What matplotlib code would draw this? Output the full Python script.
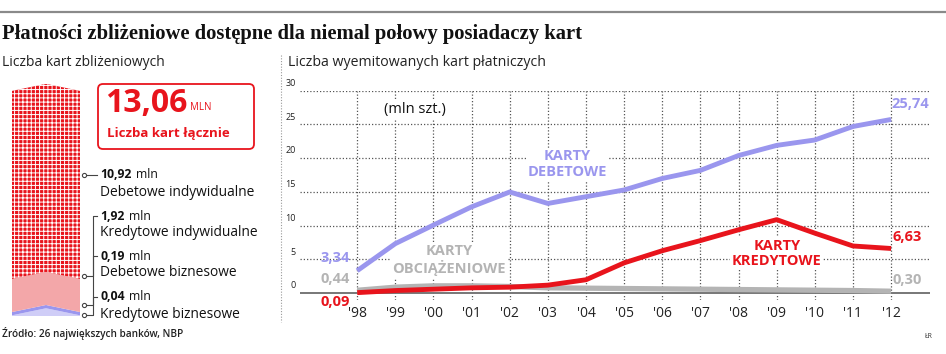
import matplotlib.pyplot as plt
import numpy as np

# --- data ---
years = list(range(1998, 2013))
year_labels = ["'98", "'99", "'00", "'01", "'02", "'03", "'04", "'05",
               "'06", "'07", "'08", "'09", "'10", "'11", "'12"]
debit = [3.34, 7.35, 10.1, 12.8, 15.0, 13.3, 14.3, 15.3, 17.0, 18.2, 20.4, 21.9, 22.7, 24.7, 25.74]
credit = [0.09, 0.4, 0.6, 0.8, 0.9, 1.2, 2.0, 4.5, 6.3, 7.8, 9.4, 10.9, 8.9, 7.0, 6.63]
charge = [0.44, 0.9, 1.1, 1.1, 1.0, 0.8, 0.75, 0.7, 0.65, 0.6, 0.55, 0.5, 0.45, 0.4, 0.30]
y_ticks = [0, 5, 10, 15, 20, 25, 30]

# contactless cards, bottom to top of the column
cl_names = ["Kredytowe biznesowe", "Debetowe biznesowe",
            "Kredytowe indywidualne", "Debetowe indywidualne"]
cl_values = [0.04, 0.19, 1.92, 10.92]
cl_total = 13.06

RED = '#e8141c'
LAV = '#9a96ee'
GREY = '#b4b4b4'
SANS = 'Open Sans'


def fmt(v):
    return f"{v:.2f}".replace('.', ',')


fig = plt.figure(figsize=(9.46, 3.54), dpi=100)
fig.patch.set_facecolor('white')

# overlay in pixel coordinates for the layout furniture
ov = fig.add_axes([0, 0, 1, 1])
ov.set_xlim(0, 946)
ov.set_ylim(354, 0)
ov.axis('off')

ov.plot([0, 946], [12, 12], color='#8a8a8a', lw=1.6)
ov.text(2, 34, "Płatności zbliżeniowe dostępne dla niemal połowy posiadaczy kart",
        family='Liberation Serif', fontweight='bold', fontsize=14.9, va='center', color='#111')
ov.text(2, 62, "Liczba kart zbliżeniowych", family=SANS, fontsize=10, va='center', color='#222')
ov.text(288, 62, "Liczba wyemitowanych kart płatniczych", family=SANS, fontsize=10.2,
        va='center', color='#222')
ov.plot([281, 281], [55, 322], color='#999', lw=0.8, ls=(0, (1, 1.5)))
ov.text(2, 334, "Źródło: 26 największych banków, NBP", family=SANS, fontsize=7.2,
        fontweight='semibold', va='center', color='#222')
ov.text(925, 336, "ŁR", family=SANS, fontsize=5, va='center', color='#333')

# red box with total
ov.add_patch(plt.matplotlib.patches.FancyBboxPatch((98, 84), 156, 65,
             boxstyle='round,pad=0,rounding_size=5', fc='white', ec=RED, lw=1.3))
big = ov.text(105, 104, fmt(cl_total), family=SANS, fontweight='bold', fontsize=23,
              color=RED, va='center')
ov.annotate("MLN", xy=(1, 0.24), xycoords=big, xytext=(2, 0), textcoords='offset points',
            family=SANS, fontsize=7, color=RED, va='bottom')
ov.text(107, 133, "Liczba kart łącznie", family=SANS, fontweight='bold', fontsize=9.5,
        color=RED, va='center')

# labels for the column
label_y = [297, 256, 216, 175]
for name, val, ly in zip(cl_names, cl_values, label_y):
    t = ov.text(100, ly, fmt(val), family=SANS, fontweight='bold', fontsize=8.8,
                color='#111', va='center')
    ov.annotate("mln", xy=(1, 0), xycoords=t, xytext=(3, 0), textcoords='offset points',
                family=SANS, fontsize=8.8, color='#111', va='bottom')
    ov.text(100, ly + 17, name, family=SANS, fontsize=9.9, color='#111', va='center')

# leader lines
ov.plot([86, 97], [175, 175], color='#444', lw=0.8)
ov.plot(84, 175, 'o', ms=3, mfc='white', mec='#444', mew=0.8)
for top, bot in [(216, 276), (256, 305), (297, 315)]:
    ov.plot([97, 93, 93, 86], [top, top, bot, bot], color='#444', lw=0.8)
    ov.plot(84, bot, 'o', ms=3, mfc='white', mec='#444', mew=0.8)

# --- contactless column ---
col = fig.add_axes([12 / 946, 1 - 316 / 354, 68 / 946, (316 - 84) / 354])
peak = 0.41
col.set_xlim(0, 1)
col.set_ylim(0, cl_total + peak)
col.axis('off')
xs = np.linspace(0, 1, 101)
tri = peak * (1 - np.abs(2 * xs - 1))
layer_colors = ['#cfcdf7', LAV, '#f3a7a9', RED]
cum = 0
lower = np.zeros_like(xs)
plt.rcParams['hatch.linewidth'] = 0.7
for i, (val, c) in enumerate(zip(cl_values, layer_colors)):
    cum += val
    upper = cum + tri
    if i == len(cl_values) - 1:
        col.fill_between(xs, lower, upper, facecolor=c, edgecolor='white',
                         hatch='++++', lw=0)
    else:
        col.fill_between(xs, lower, upper, facecolor=c, lw=0)
    lower = upper

# --- line chart ---
ax = fig.add_axes([300 / 946, 1 - 300 / 354, 630 / 946, (300 - 90.7) / 354])
ax.set_xlim(1996.5, 2013.02)
ax.set_ylim(-1, 30)
for s in ax.spines.values():
    s.set_visible(False)
ax.set_xticks([])
ax.set_yticks([])
dot = (0, (1, 1.6))
for yt in y_ticks[1:]:
    ax.axhline(yt, color='#555', lw=0.9, ls=dot, zorder=1)
for yr in years:
    ax.plot([yr, yr], [-1, 30], color='#555', lw=0.9, ls=dot, zorder=1)
ax.axhline(0, color='#777', lw=1.4, zorder=2)
for yt in y_ticks:
    ax.annotate(str(yt), xy=(1996.5, yt), xytext=(-3, 2), textcoords='offset points',
                ha='right', va='bottom', fontsize=6.5, family=SANS, color='#222')
for yr, lab in zip(years, year_labels):
    ax.annotate(lab, xy=(yr, -1), xytext=(0, -4), textcoords='offset points',
                ha='center', va='top', fontsize=10, family=SANS, color='#222')

ax.plot(years, charge, color=GREY, lw=3.8, zorder=3, solid_capstyle='butt')
ax.plot(years, credit, color=RED, lw=3.5, zorder=4, solid_capstyle='butt')
ax.plot(years, debit, color=LAV, lw=3.5, zorder=5, solid_capstyle='butt')

kw = dict(family=SANS, fontweight='bold', fontsize=10.5, textcoords='offset points', zorder=6)
ax.annotate(fmt(debit[0]), xy=(years[0], debit[0]), xytext=(-5, 4), ha='right', va='bottom', color=LAV, **kw)
ax.annotate(fmt(charge[0]), xy=(years[0], charge[0]), xytext=(-5, 3), ha='right', va='bottom', color=GREY, **kw)
ax.annotate(fmt(credit[0]), xy=(years[0], credit[0]), xytext=(-5, -2), ha='right', va='top', color=RED, **kw)
ax.annotate(fmt(debit[-1]), xy=(years[-1], debit[-1]), xytext=(0, 6), ha='left', va='bottom', color=LAV, **kw)
ax.annotate(fmt(credit[-1]), xy=(years[-1], credit[-1]), xytext=(1, 3), ha='left', va='bottom', color=RED, **kw)
ax.annotate(fmt(charge[-1]), xy=(years[-1], charge[-1]), xytext=(1, 3), ha='left', va='bottom', color=GREY, **kw)

wb = dict(boxstyle='square,pad=0.1', fc='white', ec='none')
ax.text(1998.7, 27.2, "(mln szt.)", family=SANS, fontsize=10.5, va='center', color='#111',
        zorder=2.5, bbox=wb)
tkw = dict(family=SANS, fontweight='bold', fontsize=10.5, ha='center', va='center',
           linespacing=1.15, zorder=2.5, bbox=wb)
ax.text(2003.5, 19.1, "KARTY\nDEBETOWE", color=LAV, **tkw)
ax.text(2000.4, 4.9, "KARTY\nOBCIĄŻENIOWE", color=GREY, **tkw)
ax.text(2009.0, 5.9, "KARTY\nKREDYTOWE", color=RED, **tkw)

fig.savefig('out.png', dpi=100, facecolor='white')
